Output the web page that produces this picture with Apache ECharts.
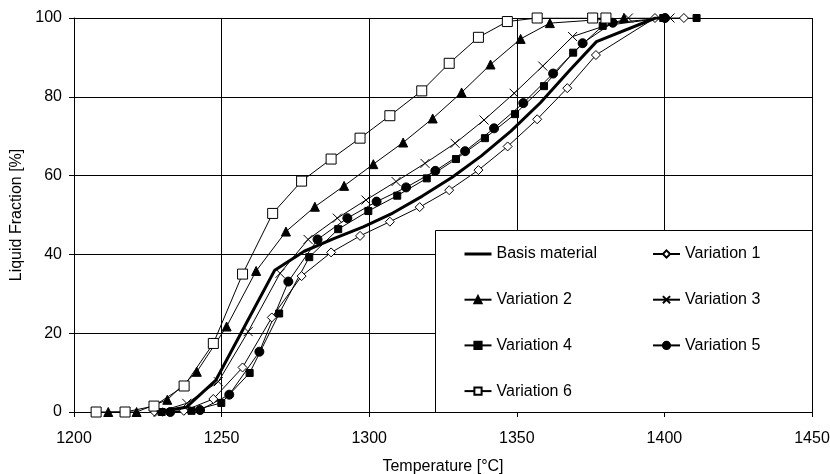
<!DOCTYPE html>
<html>
<head>
<meta charset="utf-8">
<script src="https://cdn.jsdelivr.net/npm/echarts@6/dist/echarts.min.js"></script>
<style>html,body{margin:0;padding:0;background:#fff}#c{width:830px;height:474px}</style>
</head>
<body>
<div id="c"></div>
<script>
var xTicks = [1200, 1250, 1300, 1350, 1400, 1450];
var yTicks = [0, 20, 40, 60, 80, 100];
var seriesNames = ['Basis material', 'Variation 1', 'Variation 2', 'Variation 3', 'Variation 4', 'Variation 5', 'Variation 6'];

var basisT = [1228, 1238, 1248, 1258, 1268, 1278, 1288, 1298, 1308, 1318, 1328, 1338, 1348, 1358, 1368, 1377, 1397, 1402];
var basisL = [0, 1.2, 8, 22, 36, 40.8, 44, 47, 50.5, 54.8, 59.5, 65, 71.3, 78.5, 86.8, 94, 100, 100];

var var1T = [1227.4, 1237.2, 1247.2, 1257.1, 1267, 1277.1, 1287.1, 1296.9, 1307, 1317.1, 1327.1, 1337, 1346.9, 1356.9, 1367.1, 1376.8, 1396.8, 1406.6];
var var1L = [0, 0.3, 3.3, 11.3, 24, 34.5, 40.5, 44.7, 48.3, 52.0, 56.3, 61.4, 67.4, 74.3, 82.2, 90.6, 100, 100];

var var2T = [1211.6, 1221.2, 1231.6, 1241.6, 1251.7, 1261.7, 1271.8, 1281.6, 1291.5, 1301.4, 1311.5, 1321.5, 1331.3, 1341.1, 1351.3, 1361.2, 1386.3];
var var2L = [0, 0, 3.1, 10.2, 21.7, 35.8, 45.8, 52.1, 57.4, 62.9, 68.4, 74.5, 81.1, 88.2, 94.7, 98.7, 100];

var var3T = [1228.5, 1238.2, 1248.9, 1259, 1269.8, 1279.3, 1289.2, 1298.9, 1309.1, 1318.9, 1329.1, 1338.9, 1349.1, 1358.8, 1368.9, 1387.8, 1401.9];
var var3L = [0, 2.2, 7.7, 20.4, 35.2, 43.8, 49.2, 53.8, 58.5, 63.1, 68.2, 74.1, 80.9, 87.8, 95.3, 100, 100];

var var4T = [1229.7, 1239.8, 1249.9, 1259.5, 1269.5, 1279.7, 1289.5, 1299.7, 1309.5, 1319.5, 1329.4, 1339.2, 1349.4, 1359.2, 1369.1, 1379.1, 1399.6, 1410.9];
var var4L = [0, 0.3, 2.3, 9.9, 25.0, 39.3, 46.4, 51.0, 54.9, 59.3, 64.2, 69.5, 75.6, 82.7, 91.2, 98.0, 100, 100];

var var5T = [1232.6, 1242.7, 1252.6, 1262.8, 1272.6, 1282.5, 1292.6, 1302.5, 1312.5, 1322.4, 1332.5, 1342.3, 1352.2, 1362.3, 1372.3, 1382.5, 1400.2];
var var5L = [0, 0.5, 4.4, 15.3, 33.1, 43.8, 49.2, 53.4, 57.0, 61.2, 66.2, 72.0, 78.4, 85.9, 93.6, 98.8, 100];

var var6T = [1207.5, 1217.3, 1227.1, 1237.3, 1247.2, 1257.1, 1267.3, 1277.1, 1287.1, 1296.9, 1307, 1317.8, 1327.1, 1337, 1346.8, 1356.9, 1375.7, 1380.2];
var var6L = [0, 0, 1.5, 6.6, 17.4, 35.0, 50.4, 58.6, 64.2, 69.5, 75.2, 81.5, 88.5, 95.1, 99.1, 100, 100, 100];

function pairs(t, l) { return t.map(function (v, i) { return [v, l[i]]; }); }

var FONT = 'Liberation Sans, Arial, sans-serif';
var crossPath = 'path://M0,0L10,10M0,10L10,0';

function mk(name, t, l, symbol, size, fill, extra) {
  var s = {
    name: name, type: 'line', data: pairs(t, l),
    symbol: symbol, symbolSize: size, showAllSymbol: true,
    lineStyle: { color: '#000', width: 1 },
    itemStyle: { color: fill, borderColor: '#000', borderWidth: 1 },
    emphasis: { disabled: true },
    z: 3
  };
  if (extra) for (var k in extra) s[k] = extra[k];
  return s;
}

var series = [
  mk(seriesNames[0], basisT, basisL, 'none', 0, '#000', { lineStyle: { color: '#000', width: 3 }, z: 4 }),
  mk(seriesNames[1], var1T, var1L, 'diamond', 9, '#fff'),
  mk(seriesNames[2], var2T, var2L, 'triangle', 9, '#000'),
  mk(seriesNames[3], var3T, var3L, crossPath, 9, 'none'),
  mk(seriesNames[4], var4T, var4L, 'rect', 7, '#000'),
  mk(seriesNames[5], var5T, var5L, 'circle', 9, '#000'),
  mk(seriesNames[6], var6T, var6L, 'rect', 10, '#fff')
];

var legendCommon = {
  orient: 'vertical', itemWidth: 27, itemHeight: 9, itemGap: 29.7, padding: 0,
  textStyle: { fontFamily: FONT, fontSize: 16, color: '#000', lineHeight: 16 },
  inactiveColor: '#000', selectedMode: false, z: 10
};

var chart = echarts.init(document.getElementById('c'), null, { renderer: 'canvas' });
chart.setOption({
  animation: false,
  backgroundColor: '#fff',
  grid: { left: 74, right: 18, top: 18, bottom: 62, containLabel: false, outerBoundsMode: 'none' },
  xAxis: {
    type: 'value', min: xTicks[0], max: xTicks[xTicks.length - 1], interval: 50,
    name: 'Temperature [°C]', nameLocation: 'middle', nameGap: 47,
    nameTextStyle: { fontFamily: FONT, fontSize: 16, color: '#000' },
    axisLine: { show: true, lineStyle: { color: '#000', width: 1 } },
    axisTick: { show: true, length: 5, lineStyle: { color: '#000' } },
    axisLabel: { fontFamily: FONT, fontSize: 16, color: '#000', margin: 19, formatter: function (v) { return String(v); } },
    splitLine: { show: true, lineStyle: { color: '#000', width: 1 } }
  },
  yAxis: {
    type: 'value', min: yTicks[0], max: yTicks[yTicks.length - 1], interval: 20,
    name: 'Liquid Fraction [%]', nameLocation: 'middle', nameGap: 38,
    nameTextStyle: { fontFamily: FONT, fontSize: 16, color: '#000' },
    axisLine: { show: true, lineStyle: { color: '#000', width: 1 } },
    axisTick: { show: true, length: 5, lineStyle: { color: '#000' } },
    axisLabel: { fontFamily: FONT, fontSize: 16, color: '#000', margin: 12, formatter: function (v) { return String(v); } },
    splitLine: { show: true, lineStyle: { color: '#000', width: 1 } }
  },
  legend: [
    Object.assign({}, legendCommon, { left: 463, top: 246, data: [
      { name: seriesNames[0], itemStyle: { opacity: 0, borderWidth: 0 }, lineStyle: { width: 3, color: '#000' } },
      seriesNames[2], seriesNames[4], seriesNames[6]] }),
    Object.assign({}, legendCommon, { left: 652, top: 246, data: [seriesNames[1], seriesNames[3], seriesNames[5]] })
  ],
  graphic: [{
    type: 'rect', left: 435, top: 230, z: 5,
    shape: { width: 377, height: 182 },
    style: { fill: '#fff', stroke: '#000', lineWidth: 1 }
  }],
  series: series
});
</script>
</body>
</html>
